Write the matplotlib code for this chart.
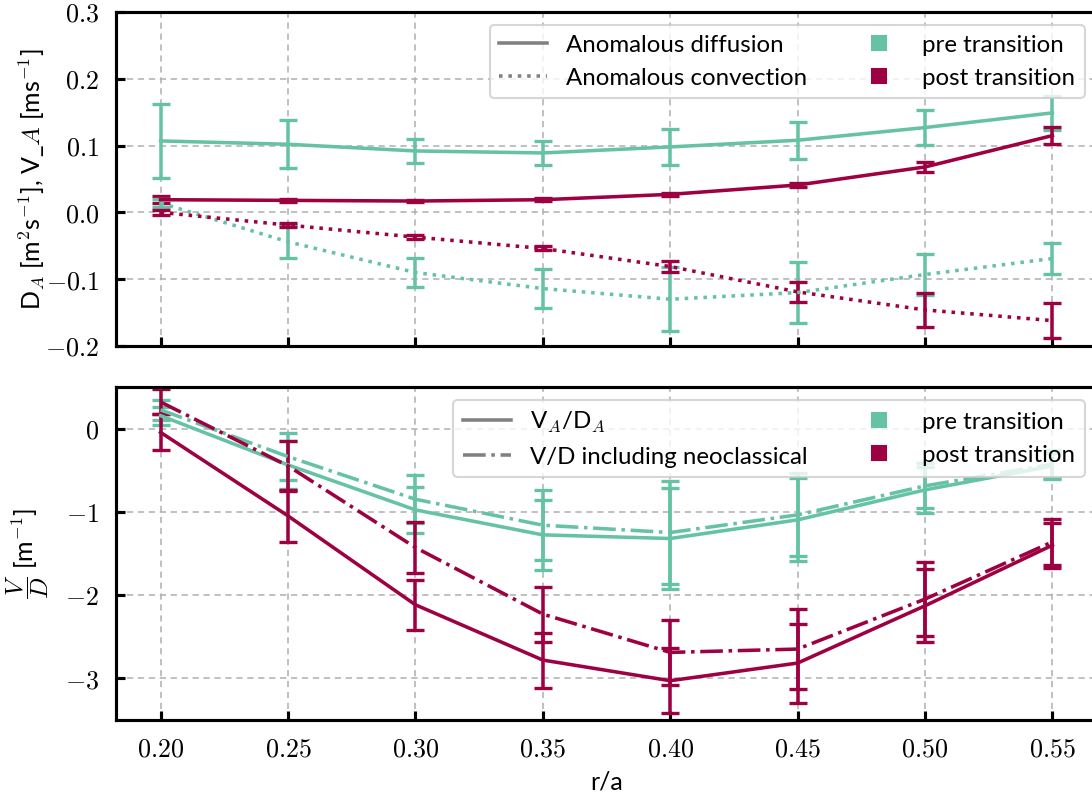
import matplotlib
matplotlib.use("Agg")
import matplotlib.pyplot as plt
from matplotlib.ticker import FuncFormatter
from matplotlib.lines import Line2D

plt.rcParams['font.family'] = ['Lato', 'DejaVu Sans']
plt.rcParams['mathtext.fontset'] = 'cm'
plt.rcParams['font.size'] = 11

# ---------------- data ----------------
r = [0.20, 0.25, 0.30, 0.35, 0.40, 0.45, 0.50, 0.55]

DA_pre = [0.107, 0.102, 0.092, 0.089, 0.098, 0.108, 0.127, 0.149]
DA_pre_err = [0.056, 0.036, 0.018, 0.018, 0.027, 0.028, 0.026, 0.025]
DA_post = [0.019, 0.018, 0.017, 0.019, 0.027, 0.041, 0.068, 0.115]
DA_post_err = [0.005, 0.002, 0.002, 0.002, 0.002, 0.003, 0.008, 0.013]

VA_pre = [0.014, -0.044, -0.090, -0.114, -0.130, -0.120, -0.093, -0.069]
VA_pre_err = [0.006, 0.025, 0.021, 0.029, 0.048, 0.045, 0.031, 0.023]
VA_post = [0.000, -0.019, -0.037, -0.054, -0.081, -0.119, -0.146, -0.162]
VA_post_err = [0.004, 0.003, 0.003, 0.003, 0.0075, 0.015, 0.025, 0.026]

VD_pre = [0.156, -0.436, -0.976, -1.276, -1.32, -1.096, -0.736, -0.448]
VD_pre_err = [0.108, 0.29, 0.28, 0.42, 0.61, 0.50, 0.28, 0.16]
VDneo_pre = [0.226, -0.336, -0.848, -1.16, -1.248, -1.036, -0.688, -0.428]
VDneo_pre_err = [0.117, 0.28, 0.29, 0.42, 0.616, 0.50, 0.27, 0.17]
VD_post = [-0.045, -1.048, -2.116, -2.78, -3.028, -2.816, -2.128, -1.40]
VD_post_err = [0.215, 0.31, 0.30, 0.33, 0.39, 0.474, 0.44, 0.27]
VDneo_post = [0.32, -0.448, -1.428, -2.228, -2.688, -2.648, -2.048, -1.36]
VDneo_post_err = [0.15, 0.30, 0.31, 0.33, 0.39, 0.476, 0.44, 0.28]

x_ticks = [0.20, 0.25, 0.30, 0.35, 0.40, 0.45, 0.50, 0.55]
top_yticks = [-0.2, -0.1, 0.0, 0.1, 0.2, 0.3]
bot_yticks = [-3, -2, -1, 0]

c_pre = '#66c2a5'
c_post = '#9e0142'

W, H = 1092, 798
fig = plt.figure(figsize=(W / 150, H / 150), dpi=150)
left = 116 / W
width = (1097 - 116) / W
ax1 = fig.add_axes([left, 1 - 346 / H, width, (346 - 12) / H])
ax2 = fig.add_axes([left, 1 - 720 / H, width, (720 - 387) / H])

eb = dict(capsize=4.5, capthick=1.6, elinewidth=1.7, lw=1.7)

ax1.errorbar(r, DA_pre, yerr=DA_pre_err, color=c_pre, ls='-', **eb)
ax1.errorbar(r, DA_post, yerr=DA_post_err, color=c_post, ls='-', **eb)
ax1.errorbar(r, VA_pre, yerr=VA_pre_err, color=c_pre, ls=':', **eb)
ax1.errorbar(r, VA_post, yerr=VA_post_err, color=c_post, ls=':', **eb)

ax2.errorbar(r, VD_pre, yerr=VD_pre_err, color=c_pre, ls='-', **eb)
ax2.errorbar(r, VDneo_pre, yerr=VDneo_pre_err, color=c_pre, ls='-.', **eb)
ax2.errorbar(r, VD_post, yerr=VD_post_err, color=c_post, ls='-', **eb)
ax2.errorbar(r, VDneo_post, yerr=VDneo_post_err, color=c_post, ls='-.', **eb)

for ax in (ax1, ax2):
    ax.set_xlim(0.1825, 0.5675)
    ax.set_xticks(x_ticks)
    ax.grid(True, color='#b0b0b0', ls=(0, (4, 3)), lw=0.75)
    ax.set_axisbelow(True)
    ax.tick_params(direction='in', length=4.5, width=1.5, labelsize=12.5, pad=8,
                   top=False, right=False)
    for s in ax.spines.values():
        s.set_linewidth(1.5)

ax1.set_ylim(-0.2, 0.3)
ax1.set_yticks(top_yticks)
ax1.yaxis.set_major_formatter(FuncFormatter(lambda v, p: f"${v:.1f}$"))
ax1.tick_params(axis='x', labelbottom=False)

ax2.set_ylim(-3.5, 0.5)
ax2.set_yticks(bot_yticks)
ax2.yaxis.set_major_formatter(FuncFormatter(lambda v, p: f"${v:.0f}$"))
ax2.xaxis.set_major_formatter(FuncFormatter(lambda v, p: f"${v:.2f}$"))

ax1.set_ylabel(r"D$_A$ [m$^2$s$^{-1}$], V_$A$ [ms$^{-1}$]", fontsize=12)
ax2.set_ylabel(r"$\dfrac{V}{D}$ [m$^{-1}$]", fontsize=12)
ax2.set_xlabel("r/a", fontsize=12)
ax1.yaxis.set_label_coords(-0.070, 0.5)
ax2.yaxis.set_label_coords(-0.066, 0.5)

gray = 'gray'
h_top = [Line2D([], [], color=gray, ls='-', lw=1.7),
         Line2D([], [], color=gray, ls=':', lw=1.7),
         Line2D([], [], color=c_pre, ls='none', marker='s', ms=7),
         Line2D([], [], color=c_post, ls='none', marker='s', ms=7)]
l_top = ["Anomalous diffusion", "Anomalous convection", "pre transition", "post transition"]
h_bot = [Line2D([], [], color=gray, ls='-', lw=1.7),
         Line2D([], [], color=gray, ls='-.', lw=1.7),
         Line2D([], [], color=c_pre, ls='none', marker='s', ms=7),
         Line2D([], [], color=c_post, ls='none', marker='s', ms=7)]
l_bot = [r"V$_A$/D$_A$", "V/D including neoclassical", "pre transition", "post transition"]

ax1.legend(h_top, l_top, ncol=2, loc='upper right', fontsize=11.5,
           bbox_to_anchor=(1085 / W, 1 - 25 / H), bbox_transform=fig.transFigure,
           borderaxespad=0)
ax2.legend(h_bot, l_bot, ncol=2, loc='upper right', fontsize=11.5,
           bbox_to_anchor=(1085 / W, 1 - 400 / H), bbox_transform=fig.transFigure,
           borderaxespad=0)

fig.savefig("out.png", dpi=150)
